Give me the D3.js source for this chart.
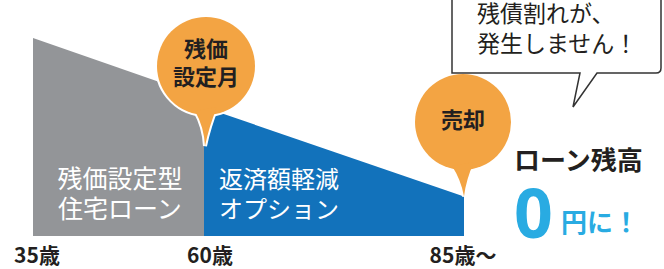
<!DOCTYPE html>
<html>

<head>
    <meta charset="utf-8">
    <style>
        body {
            margin: 0;
            background: #fff;
        }

        svg {
            display: block;
            font-family: 'Noto Sans CJK JP', 'Noto Sans', sans-serif;
        }
    </style>
</head>

<body>
    <svg width="664" height="269"></svg>
</body>

<script src="https://d3js.org/d3.v7.min.js"></script>

<script>
    // ages on the axis
    const ages = [35, 60, 85];
    const ageLabels = ["35歳", "60歳", "85歳～"];

    // loan balance (relative, 100 = start)
    const grayAges = [35, 60];
    const grayValues = [100, 70];
    const blueAges = [60, 85];
    const blueValues = [65, 20];

    const grayLabel = ["残価設定型", "住宅ローン"];
    const blueLabel = ["返済額軽減", "オプション"];
    const bubbleText1 = ["残価", "設定月"];
    const bubbleText2 = ["売却"];
    const calloutText = ["残債割れが、", "発生しません！"];

    let svg = d3.select("svg");

    // x is not even in the picture, so piecewise
    let x = d3.scaleLinear()
        .domain(ages)
        .range([33, 204, 464]);

    let y = d3.scaleLinear()
        .domain([0, 100])
        .range([236, 38]);

    let area = d3.area()
        .x(d => x(d[0]))
        .y0(y(0))
        .y1(d => y(d[1]));

    svg.append("path")
        .attr("d", area(d3.zip(grayAges, grayValues)))
        .style("fill", "#939598");

    svg.append("path")
        .attr("d", area(d3.zip(blueAges, blueValues)))
        .style("fill", "#1272bb");

    // labels inside the areas
    svg.append("g")
        .selectAll("text")
        .data(grayLabel)
        .join("text")
        .attr("x", 120)
        .attr("y", (d, i) => 188 + i * 30)
        .attr("text-anchor", "middle")
        .style("fill", "#fff")
        .style("font-size", "25px")
        .text(d => d);

    svg.append("g")
        .selectAll("text")
        .data(blueLabel)
        .join("text")
        .attr("x", 279)
        .attr("y", (d, i) => 188 + i * 30)
        .attr("text-anchor", "middle")
        .style("fill", "#fff")
        .style("font-size", "24px")
        .text(d => d);

    // age ticks
    let tickOffsets = [4, 6, -1];
    svg.append("g")
        .selectAll("text")
        .data(ages)
        .join("text")
        .attr("x", (d, i) => x(d) + tickOffsets[i])
        .attr("y", 263)
        .attr("text-anchor", "middle")
        .style("fill", "#231f20")
        .style("font-size", "21px")
        .style("font-weight", "bold")
        .text((d, i) => ageLabels[i]);

    // orange balloons
    function balloon(cx, cy, r, tipX, tipY) {
        let g = svg.append("g");
        let baseY = cy + r - 4;
        let tail = `M${cx - 11},${baseY} Q${cx - 2},${baseY + (tipY - baseY) * 0.45} ${tipX},${tipY}` +
            ` Q${cx + 3},${baseY + (tipY - baseY) * 0.45} ${cx + 11},${baseY - 4} Z`;
        // white outline first, then fill on top
        g.append("circle").attr("cx", cx).attr("cy", cy).attr("r", r)
            .style("fill", "#fff").style("stroke", "#fff").style("stroke-width", 4);
        g.append("path").attr("d", tail)
            .style("fill", "#fff").style("stroke", "#fff").style("stroke-width", 4);
        g.append("circle").attr("cx", cx).attr("cy", cy).attr("r", r)
            .style("fill", "#f3a443");
        g.append("path").attr("d", tail)
            .style("fill", "#f3a443");
        return g;
    }

    let b1 = balloon(206, 66, 49, x(60) + 1, 146);
    b1.selectAll("text")
        .data(bubbleText1)
        .join("text")
        .attr("x", 206)
        .attr("y", (d, i) => 57 + i * 28)
        .attr("text-anchor", "middle")
        .style("fill", "#231f20")
        .style("font-size", "22px")
        .style("font-weight", "bold")
        .text(d => d);

    let b2 = balloon(463, 122, 48, x(85), y(20));
    b2.selectAll("text")
        .data(bubbleText2)
        .join("text")
        .attr("x", 463)
        .attr("y", 128)
        .attr("text-anchor", "middle")
        .style("fill", "#231f20")
        .style("font-size", "22px")
        .style("font-weight", "bold")
        .text(d => d);

    // speech callout top right
    let callout = "M452,-5 L452,73 L580,73 L573,107 L597,73 L656,73 Q661,73 661,68 L661,-5";
    svg.append("path")
        .attr("d", callout)
        .style("fill", "#fff")
        .style("stroke", "#333")
        .style("stroke-width", 1.5);

    svg.append("g")
        .selectAll("text")
        .data(calloutText)
        .join("text")
        .attr("x", 477)
        .attr("y", (d, i) => 22 + i * 30)
        .style("fill", "#231f20")
        .style("font-size", "23px")
        .text(d => d);

    // result on the right
    svg.append("text")
        .attr("x", 514)
        .attr("y", 170)
        .style("fill", "#231f20")
        .style("font-size", "26px")
        .style("font-weight", "bold")
        .text("ローン残高");

    svg.append("text")
        .attr("x", 514)
        .attr("y", 238)
        .style("fill", "#29abe2")
        .style("font-size", "68px")
        .style("font-weight", "bold")
        .style("font-family", "'Noto Sans', sans-serif")
        .text("0");

    svg.append("text")
        .attr("x", 561)
        .attr("y", 232)
        .style("fill", "#29abe2")
        .style("font-size", "26px")
        .style("font-weight", "bold")
        .text("円に！");
</script>

</html>
